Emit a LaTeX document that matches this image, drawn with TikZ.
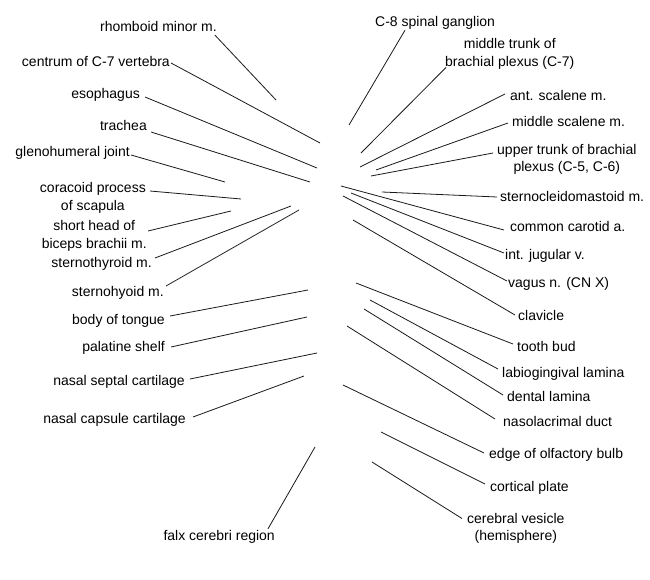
\documentclass[tikz,border=0pt]{standalone}
\usepackage{fontspec}
\setmainfont{Liberation Sans}
\begin{document}
\begin{tikzpicture}[x=1pt,y=-1pt,
  lab/.style={font=\fontsize{14}{17}\selectfont, inner sep=1pt, text height=10pt, text depth=2pt},
  labtwo/.style={font=\fontsize{14}{17.5}\selectfont, inner sep=1pt, align=center},
  lead/.style={line width=0.8pt, black!90}]
\useasboundingbox (0,0) rectangle (650,580);
% left labels
\node[lab, anchor=east] (rh) at (218,28) {rhomboid minor m.};
\node[lab, anchor=east] (ce) at (171,63) {centrum of C-7 vertebra};
\node[lab, anchor=east] (es) at (141,95) {esophagus};
\node[lab, anchor=east] (tr) at (148,127) {trachea};
\node[lab, anchor=east] (gl) at (131,153) {glenohumeral joint};
\node[labtwo, anchor=east] (co) at (147,198) {coracoid process\\of scapula};
\node[labtwo, anchor=east] (sh) at (148,236) {short head of\\biceps brachii m.};
\node[lab, anchor=east] (st) at (153,263) {sternothyroid m.};
\node[lab, anchor=east] (sy) at (165,292) {sternohyoid m.};
\node[lab, anchor=east] (bt) at (166,320) {body of tongue};
\node[lab, anchor=east] (ps) at (166,347) {palatine shelf};
\node[lab, anchor=east] (ns) at (186,381) {nasal septal cartilage};
\node[lab, anchor=east] (nc) at (187,419) {nasal capsule cartilage};
\node[lab, anchor=east] (fx) at (276,536) {falx cerebri region};
% right labels
\node[lab, anchor=west] (cg) at (374,23) {C-8 spinal ganglion};
\node[labtwo, anchor=west] (mt) at (444,54) {middle trunk of\\brachial plexus (C-7)};
\node[lab, anchor=west] (as) at (509,97) {ant. scalene m.};
\node[lab, anchor=west] (ms) at (511,123) {middle scalene m.};
\node[labtwo, anchor=west] (ut) at (496,159.5) {upper trunk of brachial\\plexus (C-5, C-6)};
\node[lab, anchor=west] (sc) at (499,197) {sternocleidomastoid m.};
\node[lab, anchor=west] (cc) at (509,227) {common carotid a.};
\node[lab, anchor=west] (ij) at (504,255) {int. jugular v.};
\node[lab, anchor=west] (va) at (507,283) {vagus n. (CN X)};
\node[lab, anchor=west] (cl) at (517,316) {clavicle};
\node[lab, anchor=west] (tb) at (516,347) {tooth bud};
\node[lab, anchor=west] (lg) at (501,373) {labiogingival lamina};
\node[lab, anchor=west] (dl) at (506,397) {dental lamina};
\node[lab, anchor=west] (nd) at (502,422) {nasolacrimal duct};
\node[lab, anchor=west] (ob) at (488,454) {edge of olfactory bulb};
\node[lab, anchor=west] (cp) at (489,487) {cortical plate};
\node[labtwo, anchor=west] (cv) at (466,528.5) {cerebral vesicle\\(hemisphere)};
% pointer ends
\coordinate (prh) at (276,100);
\coordinate (pce) at (320,143);
\coordinate (pes) at (317,168);
\coordinate (ptr) at (310,182);
\coordinate (pgl) at (225,182);
\coordinate (pco) at (241,199);
\coordinate (psh) at (231,211);
\coordinate (pst) at (291,206);
\coordinate (psy) at (299,210);
\coordinate (pbt) at (308,290);
\coordinate (pps) at (307,317);
\coordinate (pns) at (317,353);
\coordinate (pnc) at (304,376);
\coordinate (pfx) at (315,447);
\coordinate (pcg) at (349,125);
\coordinate (pmt) at (361,153);
\coordinate (pas) at (360,167);
\coordinate (pms) at (376,170);
\coordinate (put) at (371,176);
\coordinate (psc) at (382,192);
\coordinate (pcc) at (341,186);
\coordinate (pij) at (351,193);
\coordinate (pva) at (343,196);
\coordinate (pcl) at (353,220);
\coordinate (ptb) at (356,283);
\coordinate (plg) at (370,300);
\coordinate (pdl) at (364,309);
\coordinate (pnd) at (347,326);
\coordinate (pob) at (343,385);
\coordinate (pcp) at (381,432);
\coordinate (pcv) at (372,462);
% leaders
\draw[lead] ([xshift=-3pt]rh.south east) -- (prh);
\draw[lead] (ce.east) -- (pce);
\draw[lead] ([xshift=4pt,yshift=-2pt]es.east) -- (pes);
\draw[lead] ([xshift=3pt,yshift=-5pt]tr.east) -- (ptr);
\draw[lead] ([yshift=-2pt]gl.east) -- (pgl);
\draw[lead] ([xshift=3pt,yshift=7pt]co.east) -- (pco);
\draw[lead] ([yshift=5pt]sh.east) -- (psh);
\draw[lead] ([xshift=2pt,yshift=5pt]st.east) -- (pst);
\draw[lead] ([xshift=1pt,yshift=6pt]sy.east) -- (psy);
\draw[lead] ([xshift=4pt,yshift=4pt]bt.east) -- (pbt);
\draw[lead] ([xshift=5pt]ps.east) -- (pps);
\draw[lead] ([xshift=4pt,yshift=2pt]ns.east) -- (pns);
\draw[lead] ([xshift=6pt,yshift=2pt]nc.east) -- (pnc);
\draw[lead] ([xshift=-8pt]fx.north east) -- (pfx);
\draw[lead] ([xshift=31pt]cg.south west) -- (pcg);
\draw[lead] ([xshift=2pt,yshift=3pt]mt.south west) -- (pmt);
\draw[lead] ([xshift=-4pt,yshift=3pt]as.west) -- (pas);
\draw[lead] ([xshift=-3pt]ms.west) -- (pms);
\draw[lead] ([xshift=-3pt,yshift=6.5pt]ut.west) -- (put);
\draw[lead] ([xshift=-2pt]sc.west) -- (psc);
\draw[lead] ([xshift=-5pt,yshift=-3pt]cc.west) -- (pcc);
\draw[lead] ([yshift=2pt]ij.west) -- (pij);
\draw[lead] ([yshift=2pt]va.west) -- (pva);
\draw[lead] ([xshift=-2pt,yshift=1pt]cl.west) -- (pcl);
\draw[lead] ([xshift=-3pt,yshift=3pt]tb.west) -- (ptb);
\draw[lead] ([xshift=-3pt,yshift=4pt]lg.west) -- (plg);
\draw[lead] ([xshift=-3pt,yshift=2pt]dl.west) -- (pdl);
\draw[lead] ([xshift=-7pt,yshift=3pt]nd.west) -- (pnd);
\draw[lead] ([xshift=-4pt,yshift=1pt]ob.west) -- (pob);
\draw[lead] ([xshift=-4pt,yshift=3pt]cp.west) -- (pcp);
\draw[lead] ([xshift=-4pt,yshift=10pt]cv.west) -- (pcv);
\end{tikzpicture}
\end{document}
